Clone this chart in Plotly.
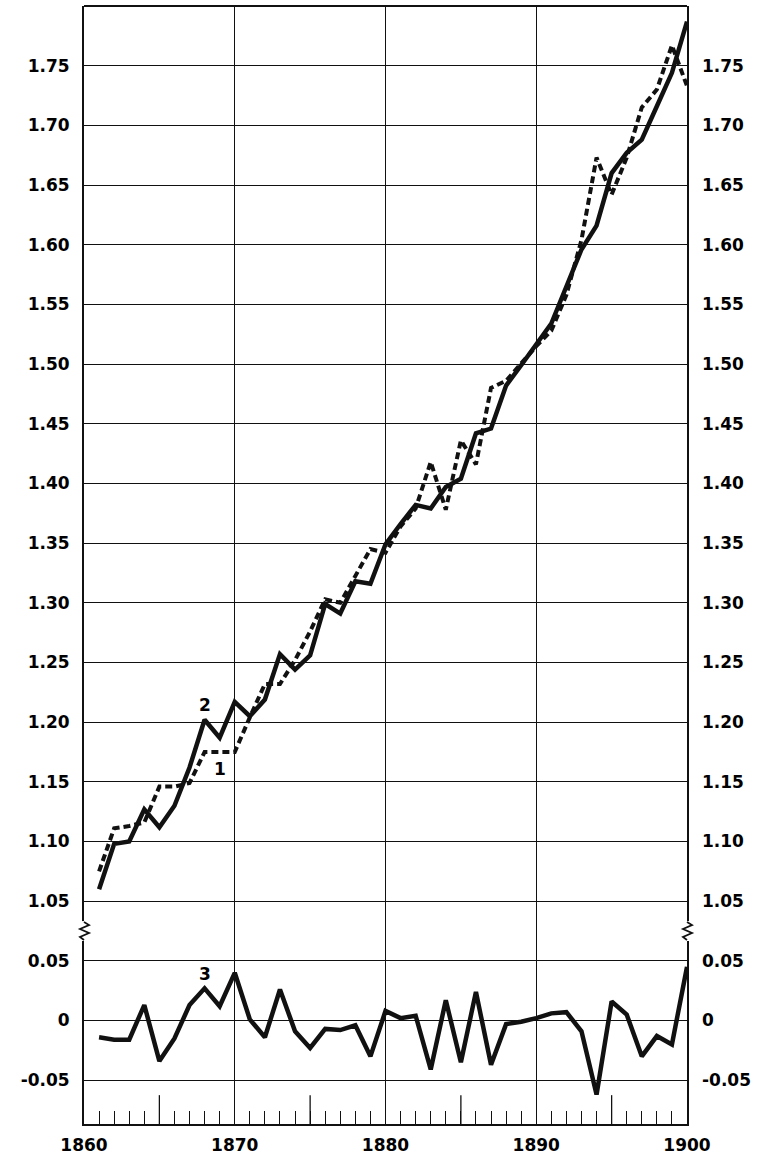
import plotly.graph_objects as go

# ---------------- data ----------------
years = list(range(1861, 1901))

series1 = [1.075, 1.111, 1.113, 1.116, 1.146, 1.146, 1.149, 1.175, 1.175, 1.175,
           1.204, 1.232, 1.232, 1.252, 1.276, 1.303, 1.300, 1.322, 1.345, 1.342,
           1.364, 1.379, 1.418, 1.378, 1.436, 1.416, 1.480, 1.486, 1.501, 1.515,
           1.528, 1.558, 1.604, 1.673, 1.642, 1.673, 1.715, 1.730, 1.767, 1.733]

series2 = [1.060, 1.098, 1.100, 1.127, 1.112, 1.130, 1.162, 1.202, 1.187, 1.217,
           1.205, 1.219, 1.257, 1.244, 1.256, 1.299, 1.291, 1.318, 1.316, 1.349,
           1.366, 1.382, 1.379, 1.397, 1.404, 1.442, 1.446, 1.482, 1.499, 1.517,
           1.534, 1.565, 1.596, 1.616, 1.660, 1.677, 1.688, 1.716, 1.744, 1.787]

series3 = [-0.014, -0.016, -0.016, 0.013, -0.034, -0.015, 0.013, 0.027, 0.012, 0.040,
           0.001, -0.014, 0.026, -0.009, -0.023, -0.007, -0.008, -0.004, -0.030, 0.008,
           0.002, 0.004, -0.041, 0.017, -0.035, 0.024, -0.037, -0.003, -0.001, 0.002,
           0.006, 0.007, -0.009, -0.062, 0.016, 0.005, -0.030, -0.013, -0.020, 0.045]

upper_ticks = [1.05, 1.10, 1.15, 1.20, 1.25, 1.30, 1.35, 1.40, 1.45, 1.50,
               1.55, 1.60, 1.65, 1.70, 1.75]
upper_labels = ["1.05", "1.10", "1.15", "1.20", "1.25", "1.30", "1.35", "1.40",
                "1.45", "1.50", "1.55", "1.60", "1.65", "1.70", "1.75"]
lower_ticks = [-0.05, 0.0, 0.05]
lower_labels = ["-0.05", "0", "0.05"]
x_label_years = [1860, 1870, 1880, 1890, 1900]
x_labels = ["1860", "1870", "1880", "1890", "1900"]
half_decades = [1865, 1875, 1885, 1895]

# curve labels: (text, year, value, axis)
curve_labels = [("2", 1868, 1.214, "y"), ("1", 1869, 1.161, "y"), ("3", 1868, 0.039, "y2")]

# ---------------- layout geometry ----------------
W, H = 763, 1161
ML, MR, MT, MB = 84, 76, 6, 31
plot_w = W - ML - MR
plot_h = H - MT - MB
split_px = 936                       # pixel row of the axis break
d = (H - MB - split_px) / plot_h     # lower panel fraction

UPPER_RANGE = [1.025, 1.80]
LOWER_RANGE = [-0.0867, 0.075]

FONT = dict(family="DejaVu Sans, sans-serif", size=17, color="black", weight="bold")
INK = "#111111"

fig = go.Figure()
fig.add_trace(go.Scatter(x=years, y=series1, mode="lines", yaxis="y", xaxis="x",
                         line=dict(color=INK, width=4, dash="7px,4px"), showlegend=False,
                         hoverinfo="skip"))
fig.add_trace(go.Scatter(x=years, y=series2, mode="lines", yaxis="y", xaxis="x",
                         line=dict(color=INK, width=4.5), showlegend=False, hoverinfo="skip"))
fig.add_trace(go.Scatter(x=years, y=series3, mode="lines", yaxis="y2", xaxis="x",
                         line=dict(color=INK, width=4.5), showlegend=False, hoverinfo="skip"))
# invisible companions so the right-hand mirror axes are drawn
fig.add_trace(go.Scatter(x=years, y=series2, mode="lines", yaxis="y3", xaxis="x",
                         line=dict(width=0), opacity=0, showlegend=False, hoverinfo="skip"))
fig.add_trace(go.Scatter(x=years, y=series3, mode="lines", yaxis="y4", xaxis="x",
                         line=dict(width=0), opacity=0, showlegend=False, hoverinfo="skip"))


def px2paper(px, py):
    return (px - ML) / plot_w, (H - MB - py) / plot_h


shapes = []
# top border of the frame
shapes.append(dict(type="line", xref="paper", yref="paper", x0=0, x1=1, y0=1, y1=1,
                   line=dict(color=INK, width=1.8), layer="above"))
# longer half-decade ticks on the time axis
for yr in half_decades:
    shapes.append(dict(type="line", xref="x", yref="paper", x0=yr, x1=yr,
                       y0=0, y1=29 / plot_h, line=dict(color=INK, width=1.3)))

# axis-break zigzags on both borders
for bx in (ML, W - MR):
    x0, y0 = px2paper(bx - 5, split_px - 10)
    x1, y1 = px2paper(bx + 5, split_px + 10)
    shapes.append(dict(type="rect", xref="paper", yref="paper", x0=x0, x1=x1,
                       y0=y1, y1=y0, fillcolor="white", line=dict(width=0), layer="above"))
    pts = [(0, -9), (5, -6), (-4, -2), (5, 2), (-4, 6), (0, 9)]
    path = ""
    for i, (dx, dy) in enumerate(pts):
        px_, py_ = px2paper(bx + dx, split_px + dy)
        path += ("M" if i == 0 else "L") + f"{px_:.5f},{py_:.5f} "
    shapes.append(dict(type="path", xref="paper", yref="paper", path=path.strip(),
                       line=dict(color=INK, width=1.8), layer="above"))

annotations = []
for txt, yr, val, ax in curve_labels:
    annotations.append(dict(text=txt, x=yr, y=val, xref="x", yref=ax, showarrow=False,
                            font=FONT, xanchor="center", yanchor="middle"))

yaxis_common = dict(showgrid=True, gridcolor=INK, gridwidth=1, zeroline=False,
                    showline=True, linecolor=INK, linewidth=1.8, mirror=True,
                    ticks="", tickfont=FONT, tickmode="array", ticklabelstandoff=9)

right_common = dict(side="right", anchor="x", tickmode="array", showgrid=False,
                    zeroline=False, showline=False, ticks="", tickfont=FONT,
                    ticklabelstandoff=14)

fig.update_layout(
    width=W, height=H, autosize=False,
    margin=dict(l=ML, r=MR, t=MT, b=MB, pad=0),
    paper_bgcolor="white", plot_bgcolor="white",
    showlegend=False,
    xaxis=dict(range=[1860, 1900], domain=[0, 1], anchor="y2",
               tickmode="array", tickvals=x_label_years, ticktext=x_labels,
               ticks="inside", ticklen=13, tickcolor=INK, tickwidth=1.3,
               minor=dict(dtick=1, tick0=1860, ticks="inside", ticklen=13,
                          tickcolor=INK, tickwidth=1.3, showgrid=False),
               showgrid=True, gridcolor=INK, gridwidth=1, zeroline=False,
               showline=True, linecolor=INK, linewidth=1.8, mirror=False,
               tickfont=FONT, ticklabelstandoff=5),
    yaxis=dict(domain=[d, 1], range=UPPER_RANGE, anchor="x",
               tickvals=upper_ticks, ticktext=upper_labels, **yaxis_common),
    yaxis2=dict(domain=[0, d], range=LOWER_RANGE, anchor="x",
                tickvals=lower_ticks, ticktext=lower_labels, **yaxis_common),
    yaxis3=dict(overlaying="y", range=UPPER_RANGE, tickvals=upper_ticks,
                ticktext=upper_labels, **right_common),
    yaxis4=dict(overlaying="y2", range=LOWER_RANGE, tickvals=lower_ticks,
                ticktext=lower_labels, **right_common),
    shapes=shapes,
    annotations=annotations,
)

fig.write_html("out.html",
               config={"displayModeBar": False},
               post_script="document.body.style.margin='0';document.body.style.overflow='hidden';")
